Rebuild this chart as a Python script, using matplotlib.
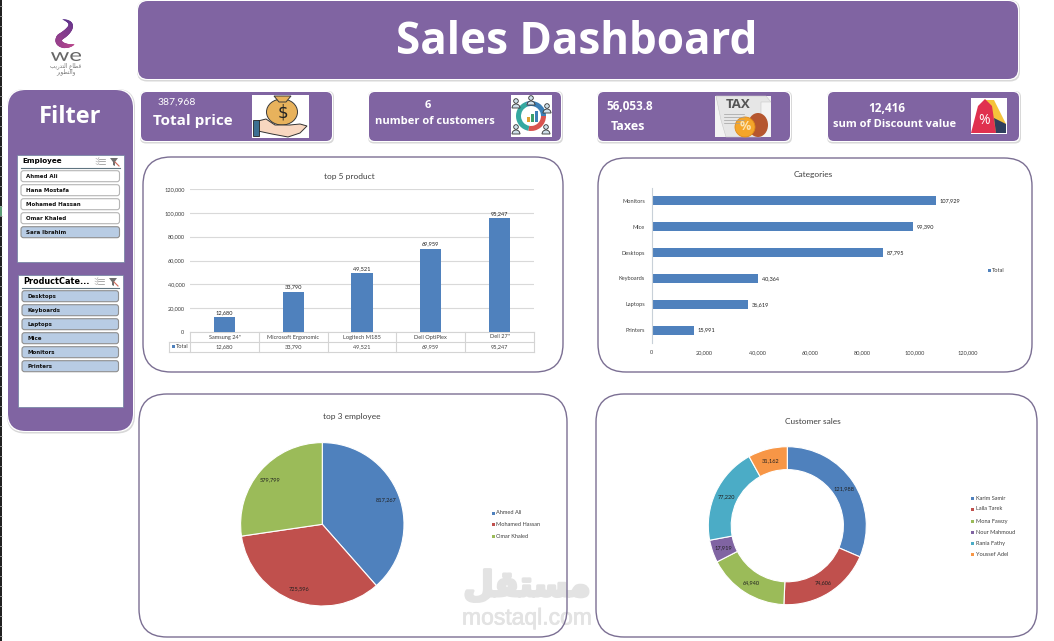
import matplotlib
matplotlib.use('Agg')
import matplotlib.pyplot as plt
import matplotlib.patheffects as pe
import numpy as np
from matplotlib.font_manager import FontProperties
from matplotlib.patches import FancyBboxPatch, Rectangle, Circle, Polygon, PathPatch, Wedge, Ellipse
from matplotlib.path import Path
from matplotlib.textpath import TextPath
from matplotlib.transforms import Affine2D

W, H = 1054, 641

# chart data
product_names = ['Samsung 24"', 'Microsoft Ergonomic', 'Logitech M185', 'Dell OptiPlex', 'Dell 27"']
product_values = [12680, 33790, 49521, 69959, 95247]
product_ticks = [0, 20000, 40000, 60000, 80000, 100000, 120000]

category_names = ['Monitors', 'Mice', 'Desktops', 'Keyboards', 'Laptops', 'Printers']
category_values = [107929, 99390, 87795, 40364, 36619, 15991]

employee_names = ['Ahmed Ali', 'Mohamed Hassan', 'Omar Khaled']
employee_values = [817267, 725596, 579799]

customer_names = ['Karim Samir', 'Laila Tarek', 'Mona Fawzy', 'Nour Mahmoud', 'Rania Fathy', 'Youssef Adel']
customer_values = [121988, 74606, 64940, 17919, 77220, 31162]

slicer_employees = ['Ahmed Ali', 'Hana Mostafa', 'Mohamed Hassan', 'Omar Khaled', 'Sara Ibrahim']
slicer_categories = ['Desktops', 'Keyboards', 'Laptops', 'Mice', 'Monitors', 'Printers']

BLUE, RED, GREEN, VIOLET, TEAL, ORANGE = '#4f81bd', '#c0504d', '#9bbb59', '#8064a2', '#4bacc6', '#f79646'
PANEL = '#8064a2'
CHART_FONT = 'Lato'
CARD_FONT = 'Open Sans'
SMALL = 4.1
MARK_GREY = '#e3e3e3'

fig = plt.figure(figsize=(W / 100, H / 100), dpi=100, facecolor='white')
bg = fig.add_axes([0, 0, 1, 1])
bg.set_xlim(0, W)
bg.set_ylim(H, 0)
bg.axis('off')


def px_axes(x0, y0, x1, y1):
    a = fig.add_axes([x0 / W, 1 - y1 / H, (x1 - x0) / W, (y1 - y0) / H])
    a.patch.set_alpha(0)
    return a


def round_box(x0, y0, x1, y1, r, **kw):
    p = FancyBboxPatch((x0, y0), x1 - x0, y1 - y0, boxstyle=f'round,pad=0,rounding_size={r}', **kw)
    bg.add_patch(p)
    return p


def purple_box(x0, y0, x1, y1, r):
    # soft shadow, white rim, then the fill
    round_box(x0 - 1, y0 - 1, x1 + 2, y1 + 2.5, r, fc='#d8d8d8', ec='none')
    round_box(x0 - 1, y0 - 1, x1 + 1, y1 + 1, r, fc='white', ec='none')
    round_box(x0, y0, x1, y1, r, fc=PANEL, ec='none')


def chart_box(x0, y0, x1, y1):
    # outline sits above the site mark, which is text on the same axes
    round_box(x0, y0, x1, y1, 28, fc='white', ec='none')
    round_box(x0, y0, x1, y1, 28, fc='none', ec='#7b6f93', lw=1, zorder=4)


def label(x, y, s, size=SMALL, color='#404040', **kw):
    kw.setdefault('ha', 'center')
    kw.setdefault('va', 'center')
    kw.setdefault('family', CHART_FONT)
    return bg.text(x, y, s, fontsize=size, color=color, **kw)


def arabic(chars):
    # presentation forms run left to right once reversed
    return ''.join(reversed(chars))


# spreadsheet edge on the far left
bg.add_patch(Rectangle((0, 0), 2.2, H, fc='#202020', ec='none'))
for yy in np.arange(6, H, 10):
    bg.plot([0, 2.2], [yy, yy], color='#b0b0b0', lw=0.5)
bg.add_patch(Rectangle((0, 206), 2.2, 10, fc='#5d9b76', ec='none'))

# logo: a tapered stroke that shifts from violet to magenta
ctrl = [((63, 19.5), (73, 22), (70, 28)), ((70, 28), (67, 33), (60, 37)), ((60, 37), (56, 43), (64, 45.5)),
        ((64, 45.5), (69, 46.5), (74, 44.5))]
curve = []
for p0, p1, p2 in ctrl:
    for t in np.linspace(0, 1, 14):
        curve.append(tuple((1 - t) ** 2 * np.array(p0) + 2 * t * (1 - t) * np.array(p1) + t ** 2 * np.array(p2)))
c0, c1 = np.array([0.36, 0.20, 0.55]), np.array([0.72, 0.28, 0.55])
n = len(curve)
for k in range(n - 1):
    s = k / (n - 2)
    bg.plot([curve[k][0], curve[k + 1][0]], [curve[k][1], curve[k + 1][1]], color=tuple(c0 + (c1 - c0) * s),
            lw=0.6 + 4.2 * np.sin(np.pi * s) ** 0.8, solid_capstyle='round')
# wide, flat lettering for the brand name
we_path = TextPath((0, 0), 'we', size=10, prop=FontProperties(family='Lato'))
we_box = we_path.get_extents()
we_tf = (Affine2D().translate(-we_box.x0, -we_box.y0).scale(30 / we_box.width, -9 / we_box.height)
         .translate(51, 61))
bg.add_patch(PathPatch(we_tf.transform_path(we_path), fc='#666666', ec='none'))
bg.text(66, 66, arabic('\ufed7\ufec4\ufe8e\ufec9 \ufe8d\ufedf\ufe98\ufeaa\ufead\ufef3\ufe90'), fontsize=4,
        color='#777777', ha='center', va='center', family='DejaVu Sans')
bg.text(66, 72, arabic('\ufeed\ufe8d\ufedf\ufe98\ufec4\ufeee\ufef3\ufeae'), fontsize=4,
        color='#777777', ha='center', va='center', family='DejaVu Sans')

# header
purple_box(138, 1, 1018, 79, 10)
bg.text(577, 43, 'Sales Dashboard', fontsize=31.7, color='white', weight='bold', ha='center', va='center',
        family=CARD_FONT)

# filter panel
purple_box(8, 90, 133, 431, 18)
bg.text(70.5, 117, 'Filter', fontsize=17, color='white', weight='bold', ha='center', va='center', family=CARD_FONT)


def slicer(x0, y0, x1, y1, title, title_size, items, selected, first_y):
    bg.add_patch(Rectangle((x0, y0), x1 - x0, y1 - y0, fc='white', ec='#6d7f9e', lw=0.5))
    bg.text(x0 + 5, y0 + 6.5, title, fontsize=title_size, weight='bold', color='black', ha='left', va='center',
            family='DejaVu Sans')
    bg.plot([x0 + 4, x1 - 4], [y0 + 12.5, y0 + 12.5], color='#5f7480', lw=0.8)
    # multi-select and clear-filter buttons
    ix = x1 - 27
    for k in range(3):
        bg.plot([ix + 2, ix + 8], [y0 + 3.5 + k * 2.6] * 2, color='#8a8a8a', lw=0.5)
        bg.plot([ix - 1, ix + 1, ix + 2], [y0 + 3.5 + k * 2.6, y0 + 4.5 + k * 2.6, y0 + 2.5 + k * 2.6], color='#a0a0a0', lw=0.4)
    bg.add_patch(Polygon([(x1 - 14, y0 + 3), (x1 - 6, y0 + 3), (x1 - 9, y0 + 7), (x1 - 9, y0 + 11), (x1 - 11, y0 + 10), (x1 - 11, y0 + 7)],
                         fc='#707070', ec='none'))
    bg.plot([x1 - 9, x1 - 5], [y0 + 7, y0 + 11], color='#d0695a', lw=0.8)
    for i, name in enumerate(items):
        on = i in selected
        yy = first_y + i * 14
        round_box(x0 + 4, yy, x1 - 4.5, yy + 11, 2.5, fc='#b8cce4' if on else 'white',
                  ec='#8f8f8f' if on else '#b5b5b5', lw=0.8)
        bg.text(x0 + 9, yy + 5.7, name, fontsize=4, color='#111111', ha='left', va='center', family='DejaVu Sans',
                weight='bold')


slicer(17, 155, 124, 262, 'Employee', 5.2, slicer_employees, [4], 170.7)
slicer(18, 275, 123, 407, 'ProductCate...', 5.9, slicer_categories, range(6), 290.7)

# KPI cards
purple_box(141, 92, 332, 141, 6)
purple_box(369, 92, 561, 141, 6)
purple_box(598, 92, 790, 141, 6)
purple_box(828, 92, 1019, 141, 6)

bg.text(176.5, 102, '387,968', fontsize=7.5, color='white', ha='center', va='center', family=CHART_FONT)
bg.text(193, 121, 'Total price', fontsize=11, color='white', weight='bold', ha='center', va='center', family=CARD_FONT)
bg.text(428, 105, '6', fontsize=8, color='white', weight='bold', ha='center', va='center', family=CARD_FONT)
bg.text(435, 121, 'number of customers', fontsize=8, color='white', weight='bold', ha='center', va='center', family=CARD_FONT)
bg.text(630, 107, '56,053.8', fontsize=8.5, color='white', weight='bold', ha='center', va='center', family=CARD_FONT)
bg.text(628, 126, 'Taxes', fontsize=9, color='white', weight='bold', ha='center', va='center', family=CARD_FONT)
bg.text(887, 108, '12,416', fontsize=8.5, color='white', weight='bold', ha='center', va='center', family=CARD_FONT)
bg.text(895, 124.5, 'sum of Discount value', fontsize=8, color='white', weight='bold', ha='center', va='center', family=CARD_FONT)

# money bag icon
bg.add_patch(Rectangle((252, 95), 57, 43, fc='white', ec='none'))
bg.add_patch(Ellipse((282, 112), 31, 26, fc='#e8b25c', ec='#3a3a3a', lw=0.7))
bg.add_patch(Polygon([(274, 96), (291, 96), (286, 102), (279, 102)], fc='#e8b25c', ec='#3a3a3a', lw=0.7))
bg.text(282.5, 113, '$', fontsize=12, color='#222222', ha='center', va='center', family='DejaVu Sans')
hand = Path([(258, 121), (266, 119), (275, 125), (290, 125), (300, 124), (307, 126), (300, 133), (288, 137), (272, 134), (258, 131), (258, 121)])
bg.add_patch(PathPatch(hand, fc='#f8d7c0', ec='#333333', lw=0.7))
bg.add_patch(Rectangle((253, 120), 6, 16, fc='#3c6f92', ec='#222222', lw=0.6))

# customers icon
bg.add_patch(Rectangle((511, 95), 41, 42, fc='white', ec='none'))
bg.add_patch(Wedge((531, 116), 15, 100, 250, width=5, fc='#35a8a0', ec='none'))
bg.add_patch(Wedge((531, 116), 15, 250, 360, width=5, fc='#3b7fb6', ec='none'))
bg.add_patch(Wedge((531, 116), 15, 0, 100, width=5, fc='#d9534f', ec='none'))
for bx, bh, col in zip([527, 531, 535], [5, 8, 11], ['#e0a030', '#3b9f6b', '#3b7fb6']):
    bg.add_patch(Rectangle((bx, 122 - bh), 3, bh, fc=col, ec='none'))
for px, py in zip([516, 531, 547, 516, 546], [101, 98, 106, 127, 127]):
    bg.add_patch(Circle((px, py), 2.3, fc='#cfe0ea', ec='#333333', lw=0.6))
    bg.add_patch(Wedge((px, py + 7), 4, 180, 360, fc='#cfe0ea', ec='#333333', lw=0.6))

# tax icon
bg.add_patch(Rectangle((715, 96), 56, 41, fc='#f3f3f3', ec='none'))
bg.add_patch(Polygon([(716, 96), (766, 96), (771, 102), (761, 102), (761, 137), (726, 137), (721, 120)], fc='#e6e6e6', ec='#c8c8c8', lw=0.4))
bg.text(738, 105, 'TAX', fontsize=9.5, color='#555555', weight='bold', ha='center', va='center', family=CARD_FONT)
for yy in [114, 117, 120, 123]:
    bg.plot([724, 744], [yy, yy], color='#a0a0a0', lw=0.5)
bg.add_patch(Ellipse((758, 125), 20, 24, fc='#b5562f', ec='none'))
bg.add_patch(Circle((745, 127), 10, fc='#f4a52a', ec='#e08a18', lw=0.6))
bg.text(745, 127, '%', fontsize=9, color='#fde3b0', weight='bold', ha='center', va='center', family=CARD_FONT)

# discount tag icon
bg.add_patch(Rectangle((971, 98), 36, 36, fc='white', ec='none'))
bg.add_patch(Polygon([(984, 100), (994, 100), (1006, 124), (1006, 133), (986, 133)], fc='#f5c33b', ec='none'))
bg.add_patch(Polygon([(978, 106), (985, 99), (992, 106), (996, 133), (971, 133)], fc='#e0304f', ec='none'))
bg.add_patch(Polygon([(994, 118), (1006, 124), (1006, 133), (996, 133)], fc='#2f3f5c', ec='none'))
bg.text(984, 120, '%', fontsize=10, color='white', ha='center', va='center', family=CARD_FONT)

# chart frames
chart_box(143, 157, 563, 372)
chart_box(598, 158, 1032, 372)
chart_box(139, 394, 567, 637)
chart_box(596, 394, 1037, 637)

# site mark in the lower middle
bg.text(527, 586, arabic('\ufee3\ufeb4\ufe98\ufed8\ufede'), fontsize=25, color=MARK_GREY, weight='bold',
        ha='center', va='center', family='DejaVu Sans', zorder=3,
        path_effects=[pe.Stroke(linewidth=2.2, foreground=MARK_GREY), pe.Normal()])
bg.text(527, 618, 'mostaql.com', fontsize=16.5, color=MARK_GREY, ha='center', va='center',
        family='Liberation Sans', zorder=3, path_effects=[pe.Stroke(linewidth=0.5, foreground=MARK_GREY), pe.Normal()])

# column chart
label(349, 176, 'top 5 product', size=6)
ax1 = px_axes(190, 189, 534, 332)
ax1.bar(range(len(product_values)), product_values, width=0.31, color=BLUE, zorder=3)
ax1.set_xlim(-0.5, 4.5)
ax1.set_ylim(0, 120000)
ax1.set_yticks(product_ticks)
ax1.set_yticklabels([f'{v:,}' for v in product_ticks], fontsize=SMALL, color='#404040', family=CHART_FONT)
ax1.set_xticks([])
ax1.tick_params(axis='y', length=0, pad=4)
ax1.grid(axis='y', color='#d9d9d9', lw=0.8, zorder=0)
for sp in ax1.spines.values():
    sp.set_visible(False)
for i, v in enumerate(product_values):
    ax1.text(i, v + 1700, f'{v:,}', fontsize=SMALL, color='#202020', ha='center', va='bottom', family=CHART_FONT)

# data table under the columns
TABLE_LINE = '#d4d4d4'
bg.plot([190, 534], [332, 332], color=TABLE_LINE, lw=0.8)
bg.plot([169, 534], [342, 342], color=TABLE_LINE, lw=0.8)
bg.plot([169, 534], [352, 352], color=TABLE_LINE, lw=0.8)
bg.plot([169, 169], [342, 352], color=TABLE_LINE, lw=0.8)
for k in range(len(product_names) + 1):
    xx = 190 + k * 344 / len(product_names)
    bg.plot([xx, xx], [332, 352], color=TABLE_LINE, lw=0.8)
for k, (name, v) in enumerate(zip(product_names, product_values)):
    xx = 190 + (k + 0.5) * 344 / len(product_names)
    label(xx, 337, name)
    label(xx, 347, f'{v:,}')
bg.add_patch(Rectangle((171.5, 345.2), 3.2, 3.2, fc=BLUE, ec='none'))
label(182, 346.8, 'Total')

# horizontal bars
label(813, 175, 'Categories', size=6)
ax2 = px_axes(651.7, 188, 967.7, 343)
ax2.barh(range(len(category_values)), category_values, height=0.35, color=BLUE)
ax2.set_ylim(len(category_values) - 0.5, -0.5)
ax2.set_xlim(0, 120000)
ax2.set_yticks(range(len(category_names)))
ax2.set_yticklabels(category_names, fontsize=SMALL, color='#404040', family=CHART_FONT)
ax2.set_xticks(product_ticks)
ax2.set_xticklabels([f'{v:,}' for v in product_ticks], fontsize=SMALL, color='#404040', family=CHART_FONT)
ax2.tick_params(axis='both', length=0)
ax2.tick_params(axis='x', pad=5)
ax2.tick_params(axis='y', pad=5)
for name, sp in ax2.spines.items():
    sp.set_visible(name == 'left')
ax2.spines['left'].set_color('#c8d0d8')
for i, v in enumerate(category_values):
    ax2.text(v + 1400, i, f'{v:,}', fontsize=SMALL, color='#202020', ha='left', va='center', family=CHART_FONT)
bg.add_patch(Rectangle((988, 268.5), 3.2, 3.2, fc=BLUE, ec='none'))
label(998, 270, 'Total')


def value_labels(a, wedges, values, r):
    for wd, v in zip(wedges, values):
        mid = np.deg2rad((wd.theta1 + wd.theta2) / 2)
        a.text(r * np.cos(mid), r * np.sin(mid), f'{v:,}', fontsize=SMALL, color='#202020', ha='center', va='center',
               family=CHART_FONT)


def side_legend(x, ys, names, colors):
    for yy, name, col in zip(ys, names, colors):
        bg.add_patch(Rectangle((x - 1.5, yy - 1.5), 3, 3, fc=col, ec='none'))
        label(x + 3.5, yy, name, ha='left')


# pie
label(352, 416.5, 'top 3 employee', size=6)
R = 81.7
ax3 = px_axes(322.3 - R, 524.3 - R, 322.3 + R, 524.3 + R)
pie_wedges, _ = ax3.pie(employee_values, colors=[BLUE, RED, GREEN], startangle=90, counterclock=False, radius=1,
                        wedgeprops={'edgecolor': 'white', 'linewidth': 0.8})
ax3.set_xlim(-1, 1)
ax3.set_ylim(-1, 1)
value_labels(ax3, pie_wedges, employee_values, 0.84)
side_legend(493, [513, 524, 536], employee_names, [BLUE, RED, GREEN])

# doughnut
label(813, 421, 'Customer sales', size=6)
R = 79
ax4 = px_axes(787.3 - R, 525.7 - R, 787.3 + R, 525.7 + R)
donut_colors = [BLUE, RED, GREEN, VIOLET, TEAL, ORANGE]
ring, _ = ax4.pie(customer_values, colors=donut_colors, startangle=90, counterclock=False, radius=1,
                  wedgeprops={'width': 0.29, 'edgecolor': 'white', 'linewidth': 0.8})
ax4.set_xlim(-1, 1)
ax4.set_ylim(-1, 1)
value_labels(ax4, ring, customer_values, 0.855)
side_legend(972, [498.3, 509, 521, 532, 543, 554], customer_names, donut_colors)

fig.savefig('out.png', dpi=100)
